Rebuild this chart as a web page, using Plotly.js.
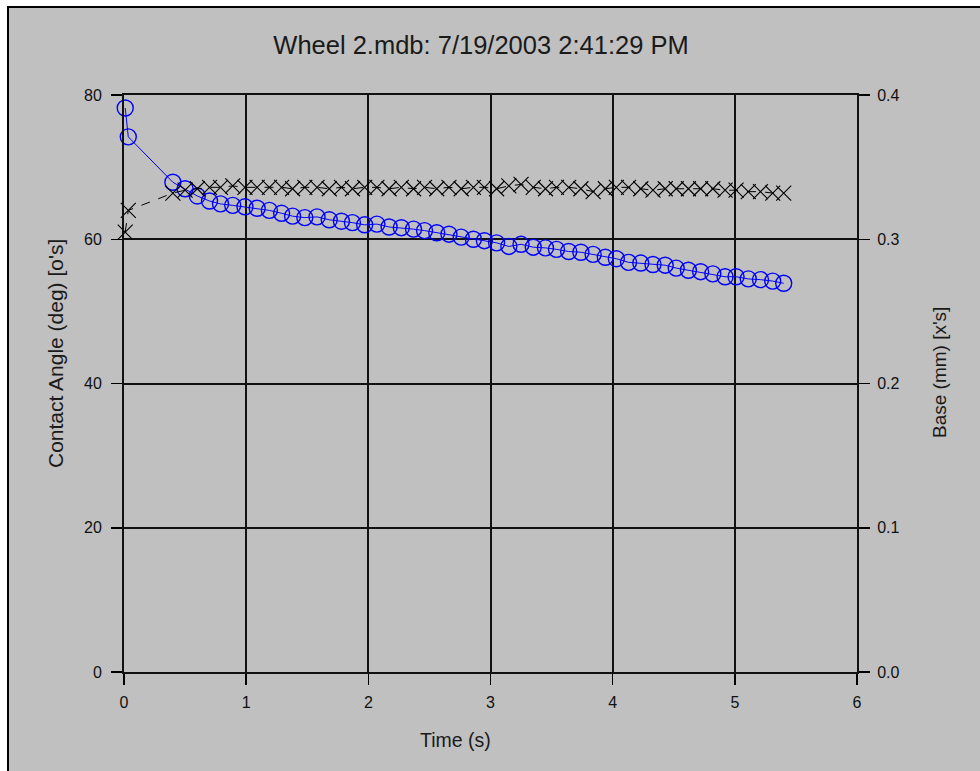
<!DOCTYPE html>
<html>
<head>
<meta charset="utf-8">
<script src="https://cdn.plot.ly/plotly-3.0.1.min.js"></script>
<style>
  html, body { margin: 0; padding: 0; background: #ffffff; width: 980px; height: 771px; overflow: hidden; }
  #wrap { position: absolute; left: 7px; top: 6px; border-left: 2px solid #000; border-top: 2px solid #000; background: #c0c0c0; }
  #chart { width: 971px; height: 763px; }
</style>
</head>
<body>
<div id="wrap"><div id="chart"></div></div>
<script>
// ---- data ----
const timeS = [0.01, 0.035, 0.40, 0.50, 0.60, 0.70, 0.79, 0.89, 0.99, 1.09, 1.19, 1.29, 1.38, 1.48, 1.58,
  1.68, 1.78, 1.87, 1.97, 2.07, 2.17, 2.27, 2.37, 2.46, 2.56, 2.66, 2.76, 2.86, 2.95, 3.05,
  3.15, 3.25, 3.35, 3.45, 3.54, 3.64, 3.74, 3.84, 3.94, 4.03, 4.13, 4.23, 4.33, 4.43, 4.52,
  4.62, 4.72, 4.82, 4.92, 5.01, 5.11, 5.21, 5.31, 5.40];
const contactAngle = [78.2, 74.2, 67.9, 67.0, 66.0, 65.3, 64.9, 64.7, 64.5, 64.3, 64.0, 63.6, 63.2, 63.0, 63.1,
  62.7, 62.5, 62.3, 62.0, 62.1, 61.7, 61.6, 61.4, 61.2, 60.9, 60.7, 60.3, 60.0, 59.8, 59.5,
  59.0, 59.3, 58.9, 58.8, 58.6, 58.3, 58.2, 57.9, 57.5, 57.3, 56.8, 56.7, 56.5, 56.4, 56.0,
  55.7, 55.5, 55.2, 54.8, 54.8, 54.5, 54.4, 54.2, 53.9];
const baseMm = [0.305, 0.320, 0.332, 0.334, 0.335, 0.336, 0.336, 0.337, 0.336, 0.336, 0.336, 0.336, 0.335, 0.336, 0.336,
  0.335, 0.336, 0.335, 0.336, 0.336, 0.335, 0.336, 0.335, 0.336, 0.335, 0.336, 0.335, 0.336, 0.336, 0.335,
  0.337, 0.338, 0.336, 0.335, 0.336, 0.336, 0.335, 0.333, 0.335, 0.336, 0.336, 0.335, 0.334, 0.335, 0.335,
  0.335, 0.335, 0.335, 0.334, 0.334, 0.333, 0.333, 0.332, 0.332];
const xTicks = [0, 1, 2, 3, 4, 5, 6];
const yTicks = [0, 20, 40, 60, 80];
const y2Ticks = [0.0, 0.1, 0.2, 0.3, 0.4];
const chartTitle = "Wheel 2.mdb: 7/19/2003 2:41:29 PM";
const xTitle = "Time (s)";
const yTitle = "Contact Angle (deg) [o's]";
const y2Title = "Base (mm) [x's]";

// ---- layout geometry ----
const W = 971, H = 763, OX = 9, OY = 8;
const L = 115, R = 123, T = 87, B = 99;
const PW = W - L - R, PH = H - T - B;
function pxX(pageX) { return (pageX - OX - L) / PW; }
function pxY(pageY) { return 1 - (pageY - OY - T) / PH; }

const FONT = "Liberation Sans, Arial, sans-serif";

const traces = [
  {
    x: timeS, y: contactAngle, type: 'scatter', mode: 'lines+markers', name: 'Contact Angle',
    line: { color: '#0000ff', width: 1 },
    marker: { symbol: 'circle-open', size: 16, color: '#0000ff', line: { width: 1.4, color: '#0000ff' } },
    cliponaxis: false
  },
  {
    x: timeS, y: baseMm, yaxis: 'y2', type: 'scatter', mode: 'lines+markers', name: 'Base',
    line: { color: '#000000', width: 1, dash: 'dash' },
    marker: { symbol: 'x-thin-open', size: 15, color: '#000000', line: { width: 1.1, color: '#000000' } },
    cliponaxis: false
  }
];

const axisCommon = {
  showline: true, linecolor: '#111', linewidth: 2,
  showgrid: true, gridcolor: '#111', gridwidth: 2,
  zeroline: false, ticks: 'outside', ticklen: 11, tickwidth: 1.5, tickcolor: '#000',
  tickfont: { family: FONT, size: 16, color: '#111' }
};

const layout = {
  width: W, height: H,
  paper_bgcolor: '#c0c0c0', plot_bgcolor: '#c0c0c0',
  margin: { l: L, r: R, t: T, b: B, pad: 0 },
  showlegend: false,
  title: {
    text: chartTitle, xref: 'container', yref: 'container',
    x: (481 - OX) / W, xanchor: 'center', y: 1 - (45 - OY) / H, yanchor: 'middle',
    font: { family: FONT, size: 25.5, color: '#1a1a1a' }
  },
  xaxis: Object.assign({}, axisCommon, {
    range: [0, 6], tickvals: xTicks, ticktext: xTicks.map(String), mirror: true,
    ticklabelstandoff: 4
  }),
  yaxis: Object.assign({}, axisCommon, {
    range: [0, 80], tickvals: yTicks, ticktext: yTicks.map(String), mirror: true,
    ticklabelstandoff: 6
  }),
  yaxis2: Object.assign({}, axisCommon, {
    range: [0, 0.4], tickvals: y2Ticks, ticktext: y2Ticks.map(v => v.toFixed(1)),
    overlaying: 'y', side: 'right', showgrid: false, ticklabelstandoff: 4
  }),
  annotations: [
    { text: xTitle, xref: 'paper', yref: 'paper', x: pxX(455), y: pxY(740), xanchor: 'center', yanchor: 'middle',
      showarrow: false, font: { family: FONT, size: 19.5, color: '#1a1a1a' } },
    { text: yTitle, xref: 'paper', yref: 'paper', x: pxX(55), y: pxY(354), xanchor: 'center', yanchor: 'middle',
      textangle: -90, showarrow: false, font: { family: FONT, size: 21, color: '#1a1a1a' } },
    { text: y2Title, xref: 'paper', yref: 'paper', x: pxX(940), y: pxY(373), xanchor: 'center', yanchor: 'middle',
      textangle: -90, showarrow: false, font: { family: FONT, size: 19, color: '#1a1a1a' } }
  ]
};

Plotly.newPlot('chart', traces, layout, { displayModeBar: false, staticPlot: true });
</script>
</body>
</html>
